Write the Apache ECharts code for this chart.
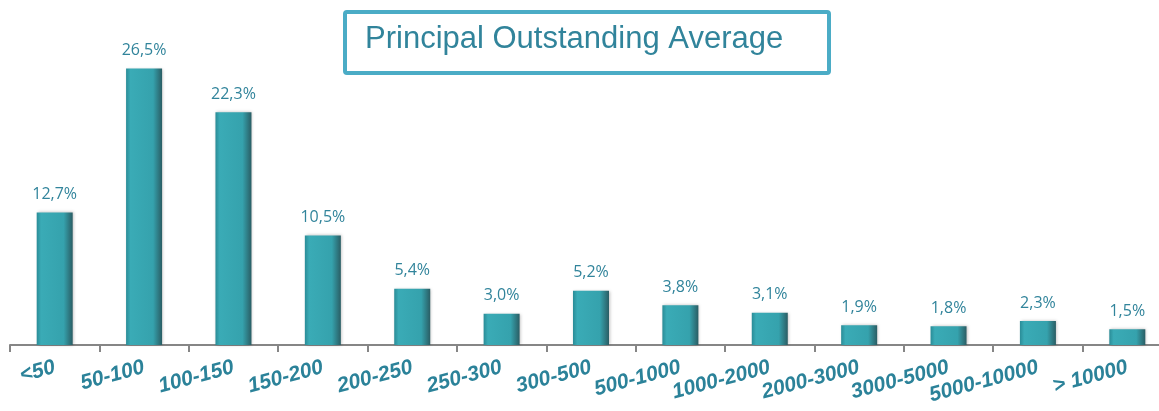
<!DOCTYPE html>
<html><head><meta charset="utf-8">
<script src="https://cdn.jsdelivr.net/npm/echarts@6/dist/echarts.min.js"></script>
<style>html,body{margin:0;padding:0;background:#fff;overflow:hidden}#c{width:1172px;height:411px}</style>
</head><body><div id="c"></div>
<script>
const categories = ['<50','50-100','100-150','150-200','200-250','250-300','300-500','500-1000','1000-2000','2000-3000','3000-5000','5000-10000','> 10000'];
const values = [12.7,26.5,22.3,10.5,5.4,3.0,5.2,3.8,3.1,1.9,1.8,2.3,1.5];
const titleText = 'Principal Outstanding Average';

const chart = echarts.init(document.getElementById('c'));
chart.setOption({
  animation: false,
  grid: {left: 10, right: 0, top: 32, bottom: 66, containLabel: false},
  xAxis: {
    type: 'category', data: categories,
    axisLine: {lineStyle: {color: '#868686', width: 2}},
    axisTick: {show: true, length: 7, lineStyle: {color: '#868686', width: 2}},
    axisLabel: {rotate: 15, margin: 22, color: '#2b8299', fontSize: 21, fontWeight: 'bold', fontStyle: 'italic', fontFamily: 'Liberation Sans, Arial, sans-serif', interval: 0}
  },
  yAxis: {type: 'value', min: 0, max: 30, show: false, splitLine: {show: false}},
  series: [{
    type: 'bar', data: values, barWidth: 36,
    itemStyle: {
      color: new echarts.graphic.LinearGradient(0, 0, 1, 0, [
        {offset: 0, color: '#2a8c97'},
        {offset: 0.12, color: '#3aabb6'},
        {offset: 0.75, color: '#35a2ad'},
        {offset: 1, color: '#2a5d64'}
      ]),
      shadowColor: 'rgba(0,0,0,0.25)', shadowBlur: 3, shadowOffsetX: 1, shadowOffsetY: 0
    },
    label: {
      show: true, position: 'top', distance: 10, color: '#31849b', fontSize: 16,
      fontFamily: 'Open Sans, DejaVu Sans, sans-serif',
      formatter: p => p.value.toFixed(1).replace('.', ',') + '%'
    }
  }],
  graphic: [
    {type: 'rect', left: 343, top: 10, shape: {width: 484, height: 61, r: 2},
     style: {fill: '#fff', stroke: '#4bacc6', lineWidth: 4}, z: 10},
    {type: 'text', left: 365, top: 24, z: 11,
     style: {text: titleText, fill: '#31849b', font: '31px "Liberation Sans", Arial, sans-serif'}}
  ]
});
</script></body></html>
